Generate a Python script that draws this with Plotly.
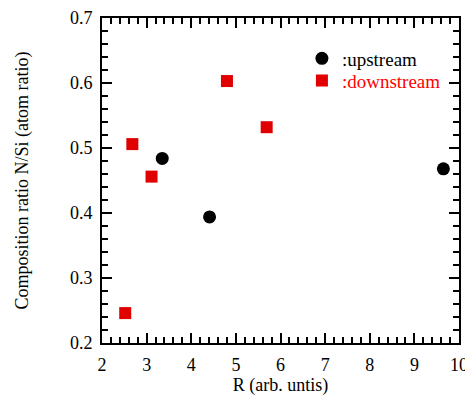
import plotly.graph_objects as go

up_x = [3.35, 4.41, 9.65]
up_y = [0.484, 0.394, 0.468]
down_x = [2.52, 2.68, 3.11, 4.80, 5.69]
down_y = [0.246, 0.506, 0.456, 0.603, 0.532]

xticks = [2, 3, 4, 5, 6, 7, 8, 9, 10]
yticks = [0.2, 0.3, 0.4, 0.5, 0.6, 0.7]

FONT = "Liberation Serif, Times New Roman, serif"

fig = go.Figure()
fig.add_trace(go.Scatter(x=up_x, y=up_y, mode="markers", name=":upstream", legend="legend",
                         marker=dict(symbol="circle", size=13, color="black")))
fig.add_trace(go.Scatter(x=down_x, y=down_y, mode="markers", legend="legend2",
                         name="<span style='color:#ff0000'>:downstream</span>",
                         marker=dict(symbol="square", size=12, color="#e00000")))

axis_common = dict(showline=True, linewidth=2, linecolor="black", mirror="ticks",
                   ticks="inside", ticklen=10, tickwidth=1.5, tickcolor="black",
                   showgrid=False, zeroline=False, automargin=False, ticklabeloverflow="allow",
                   ticklabelstandoff=4,
                   tickfont=dict(family=FONT, size=18, color="black"))

fig.update_xaxes(range=[2, 10], tickvals=xticks, ticktext=[str(v) for v in xticks],
                 minor=dict(dtick=0.2, ticks="inside", ticklen=6, tickwidth=1.5, tickcolor="black"),
                 title=dict(text="R (arb. untis)", font=dict(family=FONT, size=18, color="black"), standoff=1),
                 **axis_common)
fig.update_yaxes(range=[0.2, 0.7], tickvals=yticks, ticktext=["%.1f" % v for v in yticks],
                 minor=dict(dtick=0.02, ticks="inside", ticklen=6, tickwidth=1.5, tickcolor="black"),
                 title=dict(text="Composition ratio N/Si (atom ratio)", font=dict(family=FONT, size=18, color="black"), standoff=37),
                 **axis_common)

leg = dict(xanchor="left", yanchor="top", bgcolor="rgba(0,0,0,0)", itemwidth=30,
           font=dict(family=FONT, size=19, color="black"))
fig.update_layout(width=473, height=401, margin=dict(l=94, r=22, t=10, b=66),
                  plot_bgcolor="white", paper_bgcolor="white",
                  font=dict(family=FONT, size=18, color="black"),
                  showlegend=True,
                  legend=dict(x=0.56, y=0.934, **leg),
                  legend2=dict(x=0.56, y=0.866, **leg))

fig.write_html("out.html")
